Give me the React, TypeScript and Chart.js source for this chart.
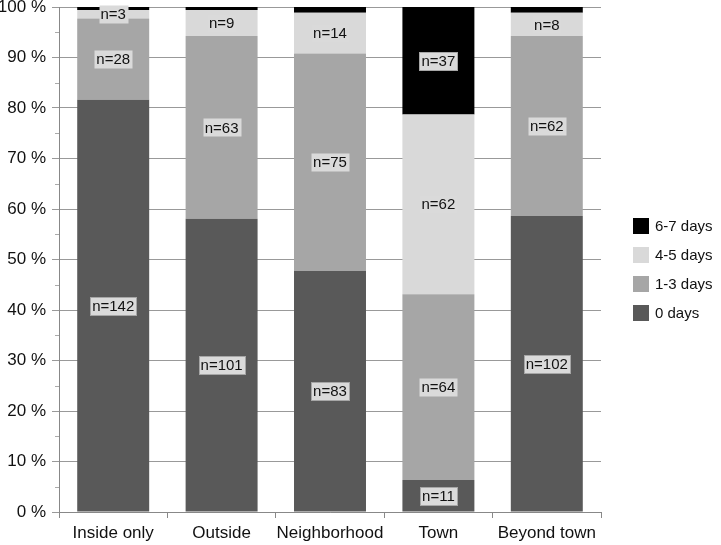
import React, { useEffect, useRef } from 'react';
import { Chart, registerables } from 'chart.js';

Chart.register(...registerables);

const categories = ['Inside only', 'Outside', 'Neighborhood', 'Town', 'Beyond town'];
const seriesNames = ['0 days', '1-3 days', '4-5 days', '6-7 days'];
const days0 = [142, 101, 83, 11, 102];
const days1to3 = [28, 63, 75, 64, 62];
const days4to5 = [3, 9, 14, 62, 8];
const days6to7 = [1, 1, 2, 37, 2];
const seriesColors = ['#595959', '#a6a6a6', '#d9d9d9', '#000000'];
const labelBorderOn = [true, false, false, true];
const yTickStep = 10;
const yMinorStep = 5;
const labelMinCount = 3;

const counts = [days0, days1to3, days4to5, days6to7];
const totals = categories.map((_, j) => counts.reduce((s, arr) => s + arr[j], 0));

const FONT = '"Liberation Sans", Arial, sans-serif';

const segmentLabels = {
  id: 'segmentLabels',
  afterDatasetsDraw(chart: any) {
    const ctx = chart.ctx;
    ctx.save();
    ctx.font = `15px ${FONT}`;
    ctx.textAlign = 'center';
    ctx.textBaseline = 'middle';
    chart.data.datasets.forEach((_: any, i: number) => {
      const meta = chart.getDatasetMeta(i);
      meta.data.forEach((bar: any, j: number) => {
        const c = counts[i][j];
        if (c < labelMinCount) return;
        const p = bar.getProps(['x', 'y', 'base'], true);
        const cx = p.x;
        const cy = (p.y + p.base) / 2;
        const text = 'n=' + c;
        const tw = ctx.measureText(text).width;
        const w = Math.round(tw + 4);
        const h = 18;
        const rx = Math.round(cx - w / 2) + 0.5;
        const ry = Math.round(cy - h / 2) + 0.5;
        ctx.fillStyle = '#dadada';
        ctx.fillRect(rx, ry, w, h);
        if (labelBorderOn[i]) {
          ctx.strokeStyle = '#a6a6a6';
          ctx.lineWidth = 1;
          ctx.strokeRect(rx, ry, w, h);
        }
        ctx.fillStyle = '#111';
        ctx.fillText(text, cx, cy + 1);
      });
    });
    ctx.restore();
  },
};

const minorTicks = {
  id: 'minorTicks',
  afterDraw(chart: any) {
    const y = chart.scales.y;
    const ctx = chart.ctx;
    ctx.save();
    ctx.strokeStyle = '#aaa';
    ctx.lineWidth = 1;
    for (let v = yMinorStep; v < 100; v += yTickStep) {
      const py = Math.round(y.getPixelForValue(v)) + 0.5;
      ctx.beginPath();
      ctx.moveTo(y.right - 4, py);
      ctx.lineTo(y.right, py);
      ctx.stroke();
    }
    ctx.restore();
  },
};

const sideLegend = {
  id: 'sideLegend',
  afterDraw(chart: any) {
    const ctx = chart.ctx;
    const area = chart.chartArea;
    ctx.save();
    ctx.font = `15px ${FONT}`;
    ctx.textAlign = 'left';
    ctx.textBaseline = 'middle';
    const x0 = area.right + 32;
    const order = [3, 2, 1, 0];
    order.forEach((i, k) => {
      const cy = 226 + k * 29;
      ctx.fillStyle = seriesColors[i];
      ctx.fillRect(x0, cy - 8, 16, 16);
      ctx.fillStyle = '#111';
      ctx.fillText(seriesNames[i], x0 + 22, cy + 1);
    });
    ctx.restore();
  },
};

export default function App() {
  const ref = useRef<HTMLCanvasElement>(null);
  useEffect(() => {
    document.body.style.margin = '0';
    const chart = new Chart(ref.current!, {
      type: 'bar',
      data: {
        labels: categories,
        datasets: counts.map((arr, i) => ({
          label: seriesNames[i],
          data: arr.map((v, j) => (v / totals[j]) * 100),
          backgroundColor: seriesColors[i],
          borderWidth: 0,
          barPercentage: 0.664,
          categoryPercentage: 1,
        })),
      },
      options: {
        responsive: false,
        animation: false,
        layout: { padding: { top: 7, right: 120, left: 0, bottom: 0 } },
        plugins: { legend: { display: false }, tooltip: { enabled: false } },
        scales: {
          x: {
            stacked: true,
            grid: { drawOnChartArea: false, drawTicks: true, tickLength: 6, color: '#888', offset: true },
            border: { color: '#888' },
            ticks: { font: { size: 17, family: FONT }, color: '#111', padding: 5, maxRotation: 0, autoSkip: false },
            afterFit(scale: any) {
              scale.height = 33;
              scale.paddingLeft = 0;
              scale.paddingRight = 0;
            },
          },
          y: {
            stacked: true,
            min: 0,
            max: 100,
            grid: { color: '#999', tickLength: 7, drawTicks: true },
            border: { color: '#888' },
            ticks: {
              stepSize: yTickStep,
              font: { size: 17, family: FONT },
              color: '#111',
              padding: 6,
              callback: (v: any) => v + ' %',
            },
            afterFit(scale: any) {
              scale.width = 59;
              scale.paddingTop = 0;
              scale.paddingBottom = 0;
            },
          },
        },
      },
      plugins: [segmentLabels, minorTicks, sideLegend],
    });
    return () => chart.destroy();
  }, []);
  return <canvas ref={ref} width={721} height={545} style={{ display: 'block' }} />;
}
